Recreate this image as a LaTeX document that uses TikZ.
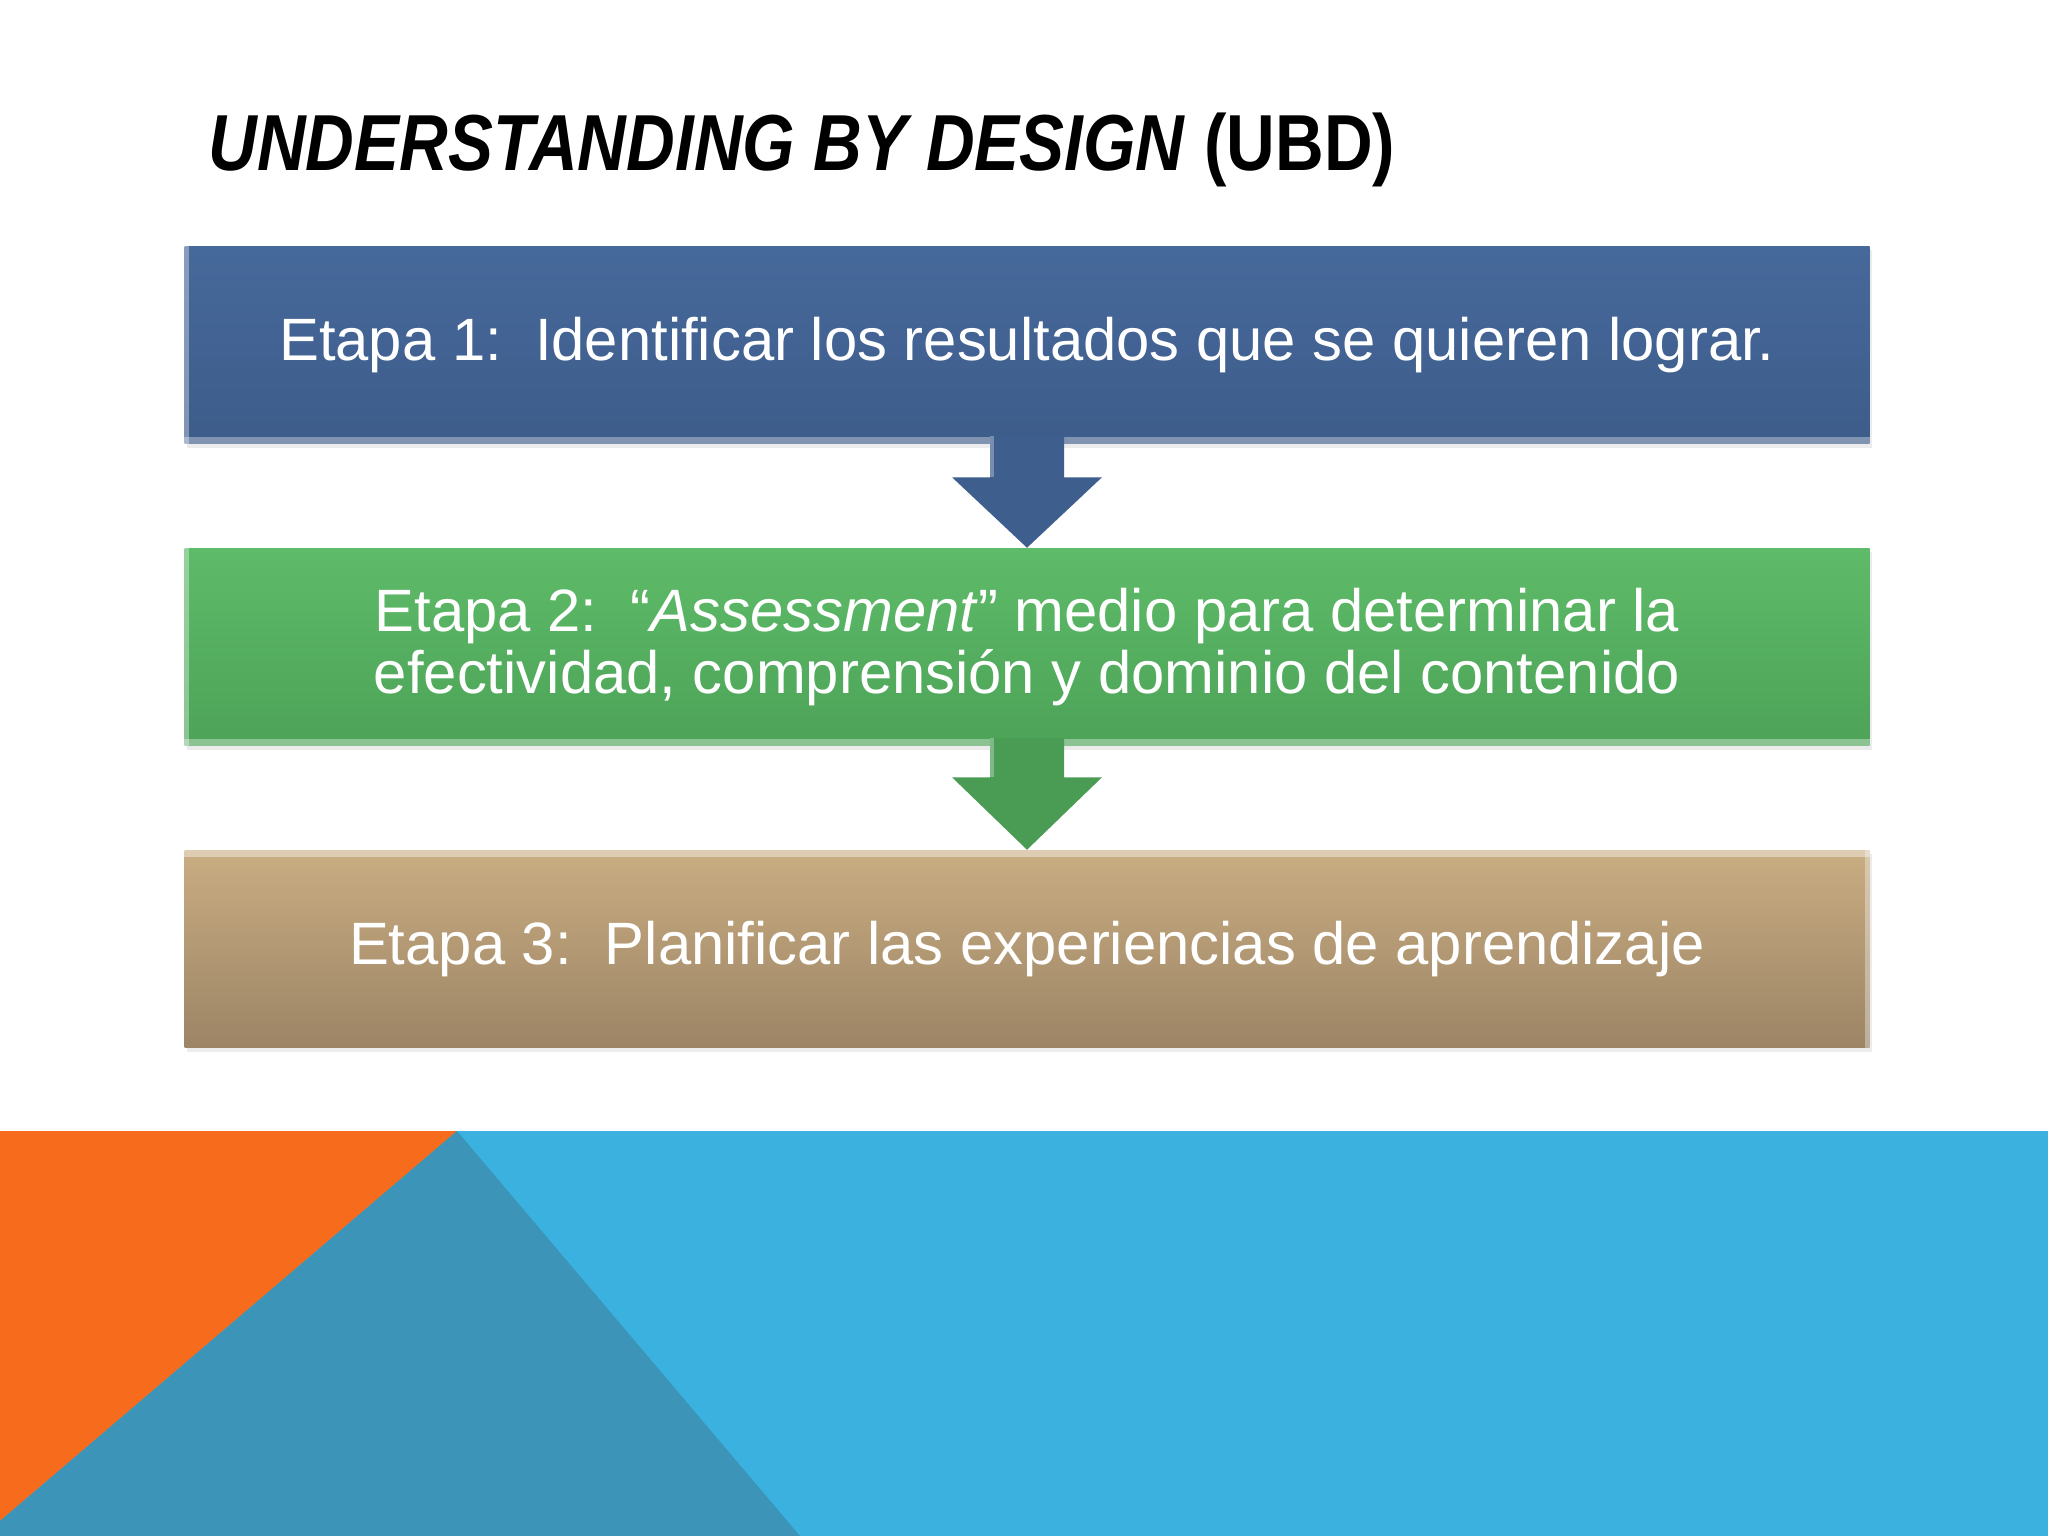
\documentclass[tikz,border=0pt]{standalone}
\usepackage{fontspec}
\setmainfont{Liberation Sans}
\usetikzlibrary{calc}
\usetikzlibrary{positioning}
\usetikzlibrary{shadows}

\definecolor{unotop}{HTML}{46699B}
\definecolor{unobot}{HTML}{3D5C8A}
\definecolor{unoarrow}{HTML}{3E5E8E}
\definecolor{dostop}{HTML}{5EBB69}
\definecolor{dosbot}{HTML}{4DA358}
\definecolor{dosarrow}{HTML}{4A9C55}
\definecolor{trestop}{HTML}{C9AD82}
\definecolor{tresbot}{HTML}{9C8465}
\definecolor{bandorange}{HTML}{F76B1C}
\definecolor{bandteal}{HTML}{3C95B8}
\definecolor{bandblue}{HTML}{3BB1DF}

\tikzset{
  etapa/.style={minimum width=16.84cm, minimum height=1.97cm, inner sep=0pt,
    text=white, align=center, font=\fontsize{17}{17.8}\selectfont,
    drop shadow={opacity=0.15, shadow xshift=0.02cm, shadow yshift=-0.04cm}},
  bevel/.style={white, opacity=0.35}
}

\begin{document}
\begin{tikzpicture}[x=0.01cm,y=-0.01cm]
		\fill[white] (0,0) rectangle (2048,1536);
		% fondo inferior
		\fill[bandblue] (0,1131) rectangle (2048,1536);
		\fill[bandorange] (0,1131) -- (457,1131) -- (0,1521) -- cycle;
		\fill[bandteal] (457,1131) -- (800,1536) -- (0,1536) -- (0,1521) -- cycle;
		% titulo
		\node[anchor=west, xscale=0.848, inner sep=0pt] (titulo) at (208,150)
			{\fontsize{22.6}{24}\selectfont\textbf{\textit{UNDERSTANDING BY DESIGN}} \textbf{(UBD)}};
		% etapas
		\node[etapa, top color=unotop, bottom color=unobot] (e1) at (1027,345)
			{Etapa 1:\ \ Identificar los resultados que se quieren lograr.};
		\node[etapa, top color=dostop, bottom color=dosbot] (e2) at (1027,647)
			{Etapa 2:\ \ ``\textit{Assessment}'' medio para determinar la\\efectividad, comprensión y dominio del contenido};
		\node[etapa, top color=trestop, bottom color=tresbot] (e3) at (1027,949)
			{Etapa 3:\ \ Planificar las experiencias de aprendizaje};
		% biseles
		\fill[bevel] (e1.south west) rectangle ($(e1.south east)+(0,-7)$);
		\fill[bevel] (e1.south west) rectangle ($(e1.north west)+(5,0)$);
		\fill[bevel] (e2.south west) rectangle ($(e2.south east)+(0,-7)$);
		\fill[bevel] (e2.south west) rectangle ($(e2.north west)+(5,0)$);
		\fill[white, opacity=0.4] (e3.north west) rectangle ($(e3.north east)+(0,7)$);
		\fill[bevel] (e3.south east) rectangle ($(e3.north east)+(-5,0)$);
		% flechas
		\fill[unoarrow] ($(e1.south)+(-37,-8)$) -- ($(e1.south)+(37,-8)$) -- ($(e1.south)+(37,33)$)
			-- ($(e1.south)+(75,33)$) -- (e2.north) -- ($(e1.south)+(-75,33)$) -- ($(e1.south)+(-37,33)$) -- cycle;
		\fill[white, opacity=0.3] ($(e1.south)+(-37,-8)$) rectangle ($(e1.south)+(-33,33)$);
		\fill[dosarrow] ($(e2.south)+(-37,-8)$) -- ($(e2.south)+(37,-8)$) -- ($(e2.south)+(37,31)$)
			-- ($(e2.south)+(75,31)$) -- (e3.north) -- ($(e2.south)+(-75,31)$) -- ($(e2.south)+(-37,31)$) -- cycle;
		\fill[white, opacity=0.3] ($(e2.south)+(-37,-8)$) rectangle ($(e2.south)+(-33,31)$);
	\end{tikzpicture}
\end{document}
